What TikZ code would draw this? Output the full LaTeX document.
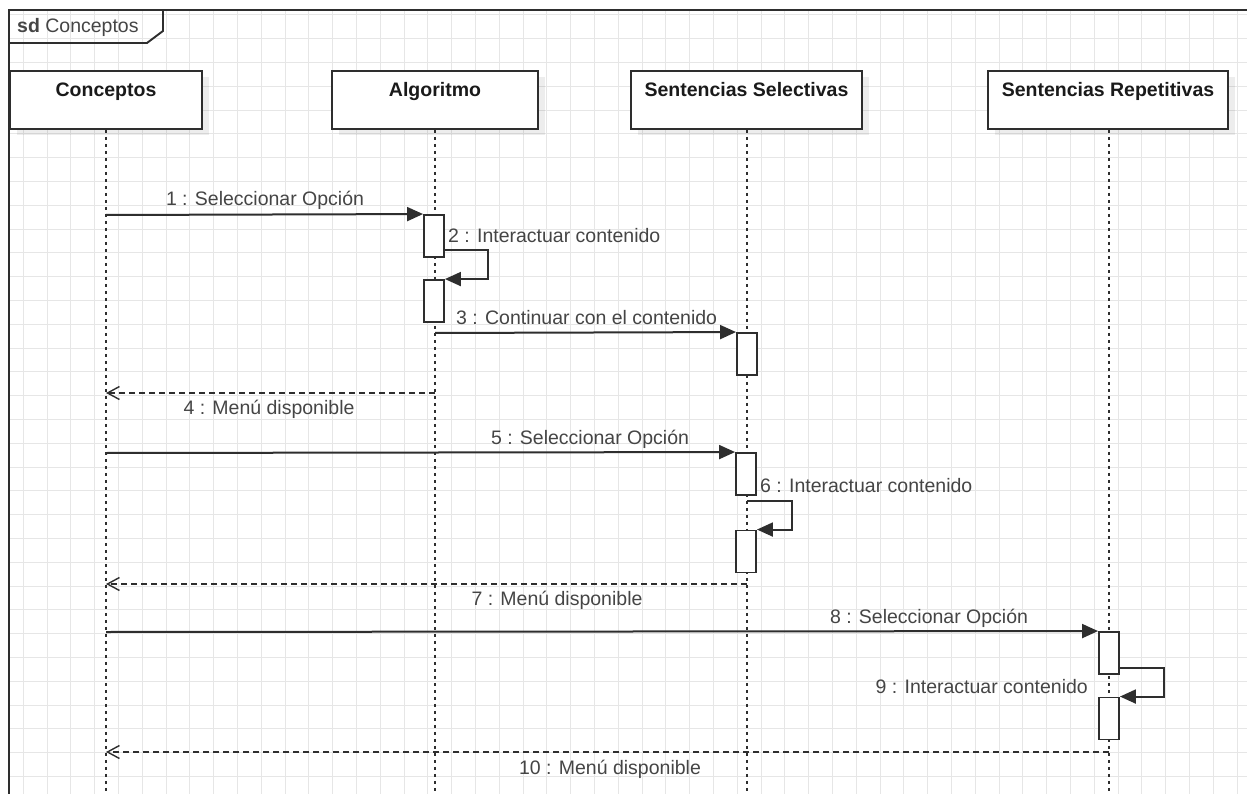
\documentclass[tikz,border=0pt]{standalone}
\usepackage{fontspec}
\setmainfont{Liberation Sans}
\usetikzlibrary{arrows.meta,calc}
\definecolor{gridc}{HTML}{E6E6E6}
\definecolor{ink}{HTML}{2E2E2E}
\definecolor{lbl}{HTML}{454545}
\definecolor{headtxt}{HTML}{1A1A1A}
\begin{document}
\begin{tikzpicture}[x=1pt,y=-1pt,
  gridline/.style={gridc, line width=0.9pt},
  frameline/.style={ink, line width=2.8pt},
  headbox/.style={draw=ink, line width=1.9pt, fill=white, minimum height=58pt, inner sep=0pt},
  headshadow/.style={fill=black, fill opacity=0.07, draw=none, minimum height=58pt, inner sep=0pt},
  headlabel/.style={font=\fontsize{19.5}{22}\selectfont\bfseries, text=headtxt, inner sep=0pt, anchor=base},
  lifeline/.style={ink, line width=2pt, dash pattern=on 3.5pt off 3.5pt},
  actbox/.style={draw=ink, line width=1.9pt, fill=white, minimum width=20pt, minimum height=42pt, inner sep=0pt},
  callmsg/.style={ink, line width=2pt, -{Triangle[length=16pt,width=14pt]}},
  retmsg/.style={ink, line width=1.8pt, dash pattern=on 6pt off 4pt, -{Straight Barb[length=12pt,width=13pt,line width=1.4pt]}},
  msglabel/.style={font=\fontsize{19.5}{22}\selectfont, text=lbl, inner sep=0pt, anchor=base}
]
\useasboundingbox (0,0) rectangle (1247,794);
\fill[white] (0,0) rectangle (1247,794);

% background grid inside the frame
\begin{scope}
  \clip (10,10) rectangle (1247,794);
  \foreach \i in {0,...,53} \draw[gridline] ({-0.5+23.8*\i},0) -- ({-0.5+23.8*\i},794);
  \foreach \j in {0,...,33} \draw[gridline] (0,{14.8+23.8*\j}) -- (1247,{14.8+23.8*\j});
\end{scope}

% sequence diagram frame with its name tab
\draw[frameline] (9,794) -- (9,10) -- (1247,10);
\draw[ink, line width=1.9pt] (9,43) -- (147,43) -- (163,31) -- (163,10);
\node[msglabel, anchor=base west] (sdname) at (17,33) {\textbf{sd} Conceptos};

% lifeline heads
\node[headshadow, minimum width=192pt] (shC) at (113,106) {};
\node[headshadow, minimum width=206pt] (shA) at (442,106) {};
\node[headshadow, minimum width=231pt] (shS) at (753.5,106) {};
\node[headshadow, minimum width=240pt] (shR) at (1115,106) {};
\node[headbox, minimum width=192pt] (hC) at (106,100) {};
\node[headbox, minimum width=206pt] (hA) at (435,100) {};
\node[headbox, minimum width=231pt] (hS) at (746.5,100) {};
\node[headbox, minimum width=240pt] (hR) at (1108,100) {};
\node[headlabel] (tC) at (106,96.5) {Conceptos};
\node[headlabel] (tA) at (435,96.5) {Algoritmo};
\node[headlabel] (tS) at (746.5,96.5) {Sentencias Selectivas};
\node[headlabel] (tR) at (1108,96.5) {Sentencias Repetitivas};

% lifelines
\coordinate (eC) at (106,794);
\coordinate (eA) at (435,794);
\coordinate (eS) at (747,794);
\coordinate (eR) at (1109,794);
\draw[lifeline] (hC.south -| eC) -- (eC);
\draw[lifeline] (hA.south -| eA) -- (eA);
\draw[lifeline] (hS.south -| eS) -- (eS);
\draw[lifeline] (hR.south -| eR) -- (eR);

% activations
\node[actbox] (a1) at (434,236) {};
\node[actbox] (a2) at (434,301) {};
\node[actbox] (s1) at (747,354) {};
\node[actbox] (s2) at (746,474) {};
\node[actbox] (s3) at (746,551.5) {};
\node[actbox] (r1) at (1109,653) {};
\node[actbox] (r2) at (1109,718.5) {};

% points on the lifelines where messages start or end
\coordinate (m1) at (106,215);
\coordinate (m2) at (444,250);
\coordinate (m3) at (435,333);
\coordinate (m4a) at (435,393);
\coordinate (m4b) at (106,393);
\coordinate (m5) at (106,453);
\coordinate (m6) at (747,501);
\coordinate (m7a) at (747,584);
\coordinate (m7b) at (106,584);
\coordinate (m8) at (106,632);
\coordinate (m9) at (1119,668);
\coordinate (m10a) at (1109,752);
\coordinate (m10b) at (106,752);

% messages
\draw[callmsg] (m1) -- (a1.north west);
\draw[callmsg] (m2) -- ++(44,0) |- (a2.north east);
\draw[callmsg] (m3) -- (s1.north west);
\draw[retmsg] (m4a) -- (m4b);
\draw[callmsg] (m5) -- (s2.north west);
\draw[callmsg] (m6) -- ++(45,0) |- (s3.north east);
\draw[retmsg] (m7a) -- (m7b);
\draw[callmsg] (m8) -- (r1.north west);
\draw[callmsg] (m9) -- ++(45,0) |- (r2.north east);
\draw[retmsg] (m10a) -- (m10b);

% message labels
\node[msglabel] (l1) at (265,206) {1 : Seleccionar Opción};
\node[msglabel, anchor=base west] (l2) at (448,243) {2 : Interactuar contenido};
\node[msglabel, anchor=base west] (l3) at (456,324.5) {3 : Continuar con el contenido};
\node[msglabel] (l4) at (269,414) {4 : Menú disponible};
\node[msglabel] (l5) at (590,444) {5 : Seleccionar Opción};
\node[msglabel, anchor=base west] (l6) at (760,492) {6 : Interactuar contenido};
\node[msglabel] (l7) at (557,605) {7 : Menú disponible};
\node[msglabel] (l8) at (929,623) {8 : Seleccionar Opción};
\node[msglabel, anchor=base east] (l9) at (1088,693) {9 : Interactuar contenido};
\node[msglabel] (l10) at (610,774) {10 : Menú disponible};
\end{tikzpicture}
\end{document}
